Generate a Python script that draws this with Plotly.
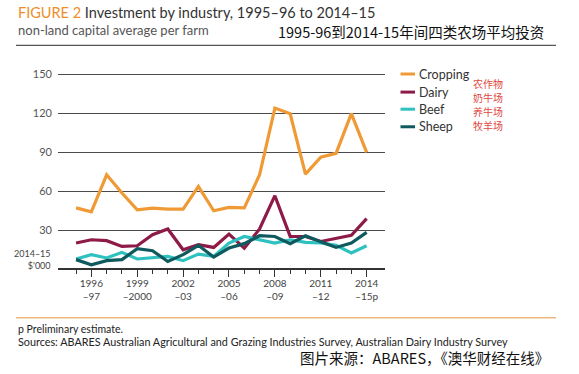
import plotly.graph_objects as go

years = ["1995-96", "1996-97", "1997-98", "1998-99", "1999-2000", "2000-01", "2001-02",
         "2002-03", "2003-04", "2004-05", "2005-06", "2006-07", "2007-08", "2008-09",
         "2009-10", "2010-11", "2011-12", "2012-13", "2013-14", "2014-15p"]

cropping = [47, 44, 72.5, 58.5, 45.6, 46.9, 46, 46, 63.5, 44.8, 47.4, 47, 72.5, 123.8,
            119.4, 73, 86, 89, 119.5, 89.7]
dairy = [20, 22.5, 21.8, 17.4, 17.9, 26.4, 30.8, 14.8, 18.7, 16.6, 26.9, 16.1, 30.8, 56.4,
         25.1, 25, 21.2, 23.3, 25.9, 38.7]
beef = [7.7, 11, 8.5, 12.8, 7.7, 8.5, 9.7, 6.4, 11.5, 9.7, 20, 25, 22.5, 20, 22.5, 20.5,
        20, 18.2, 12.3, 17.9]
sheep = [7.2, 3.3, 6.4, 7.2, 15.6, 14.1, 5.8, 11, 18.2, 9.2, 16.1, 19.5, 25.6, 25, 19.5,
         25.6, 21, 16.6, 20, 28.2]

series_names = ["Cropping", "Dairy", "Beef", "Sheep"]
series_cn = ["农作物", "奶牛场", "养牛场", "牧羊场"]
series_values = [cropping, dairy, beef, sheep]
series_colors = ["#EF9A35", "#8E1B47", "#2EC1C0", "#0F5A5E"]

y_ticks = [0, 30, 60, 90, 120, 150]
y_ticktext = ["", "30", "60", "90", "120", "150"]
x_major_idx = [1, 4, 7, 10, 13, 16, 19]
x_major_text = ["1996<br>–97", "1999<br>–2000", "2002<br>–03", "2005<br>–06",
                "2008<br>–09", "2011<br>–12", "2014<br>–15p"]

W, H = 579, 374
L, R, T, B = 58, 385, 74, 269


def px(x):
    return (x - L) / (R - L)


def py(y):
    return (B - y) / (B - T)


FONT = "Lato, 'Open Sans', sans-serif"
CJK = "'Noto Sans CJK SC', sans-serif"

fig = go.Figure()
xs = list(range(len(years)))
for name, vals, col in zip(series_names, series_values, series_colors):
    fig.add_trace(go.Scatter(x=xs, y=vals, mode="lines", name=name,
                             line=dict(color=col, width=3.2), showlegend=False,
                             hoverinfo="skip", cliponaxis=False))

fig.update_layout(
    width=W, height=H,
    margin=dict(l=L, r=W - R, t=T - 1, b=H - B),
    paper_bgcolor="white", plot_bgcolor="white",
    font=dict(family=FONT, color="#444", size=11),
    xaxis=dict(range=[-1.18, 20.2], showgrid=False, zeroline=False,
               tickvals=x_major_idx, ticktext=x_major_text,
               ticks="outside", ticklen=7, tickwidth=1.2, tickcolor="#333",
               tickfont=dict(size=10, color="#444"), ticklabelstandoff=-2,
               minor=dict(tickvals=xs, ticks="outside", ticklen=4, tickwidth=1.2,
                          tickcolor="#333"),
               showline=False, fixedrange=True),
    yaxis=dict(range=[0, 150.8], tickvals=y_ticks, ticktext=y_ticktext,
               showgrid=True, gridcolor="#4a4a4a", gridwidth=1.3,
               zeroline=True, zerolinecolor="#333", zerolinewidth=1.5,
               ticks="", ticklabelstandoff=5, tickfont=dict(size=11, color="#555"),
               showline=False, fixedrange=True),
)

ann = []
shapes = []
# header
ann.append(dict(x=px(16), y=py(14), xref="paper", yref="paper", xanchor="left",
                yanchor="middle", showarrow=False,
                text="<span style='color:#EE8E2B'>FIGURE 2</span> Investment by industry, 1995–96 to 2014–15",
                font=dict(family=FONT, size=14.5, color="#333")))
ann.append(dict(x=px(16), y=py(31), xref="paper", yref="paper", xanchor="left",
                yanchor="middle", showarrow=False,
                text="non-land capital average per farm",
                font=dict(family=FONT, size=13, color="#555")))
ann.append(dict(x=px(546), y=py(33), xref="paper", yref="paper", xanchor="right",
                yanchor="middle", showarrow=False,
                text="1995-96到2014-15年间四类农场平均投资",
                font=dict(family=CJK, size=14.5, color="#111")))
shapes.append(dict(type="line", xref="paper", yref="paper", x0=px(16), x1=px(556),
                   y0=py(46.5), y1=py(46.5), line=dict(color="#555", width=1.2)))

# y unit label
ann.append(dict(x=px(53), y=py(260), xref="paper", yref="paper", xanchor="right",
                yanchor="middle", showarrow=False, align="right",
                text="2014–15<br>$'000", font=dict(family=FONT, size=9, color="#444")))

# legend
leg_y = [75, 93, 110, 127.5]
cn_y = [84, 98, 112, 126]
for name, cn, col, ly, cy in zip(series_names, series_cn, series_colors, leg_y, cn_y):
    shapes.append(dict(type="line", xref="paper", yref="paper", x0=px(400.5), x1=px(415),
                       y0=py(ly), y1=py(ly), line=dict(color=col, width=3)))
    ann.append(dict(x=px(417), y=py(ly), xref="paper", yref="paper", xanchor="left",
                    yanchor="middle", showarrow=False, text=name,
                    font=dict(family=FONT, size=12.5, color="#333")))
    ann.append(dict(x=px(471), y=py(cy), xref="paper", yref="paper", xanchor="left",
                    yanchor="middle", showarrow=False, text=cn,
                    font=dict(family=CJK, size=10, color="#E0483F")))

# footer
shapes.append(dict(type="line", xref="paper", yref="paper", x0=px(16), x1=px(556),
                   y0=py(317.5), y1=py(317.5), line=dict(color="#EDB77A", width=1.5)))
ann.append(dict(x=px(16), y=py(329), xref="paper", yref="paper", xanchor="left",
                yanchor="middle", showarrow=False, text="p Preliminary estimate.",
                font=dict(family=FONT, size=10.5, color="#222")))
ann.append(dict(x=px(16), y=py(341.5), xref="paper", yref="paper", xanchor="left",
                yanchor="middle", showarrow=False,
                text="Sources: ABARES Australian Agricultural and Grazing Industries Survey, Australian Dairy Industry Survey",
                font=dict(family=FONT, size=10.8, color="#222")))
ann.append(dict(x=px(551), y=py(357), xref="paper", yref="paper", xanchor="right",
                yanchor="middle", showarrow=False,
                text="图片来源：ABARES，《澳华财经在线》",
                font=dict(family=CJK, size=14.5, color="#111")))

fig.update_layout(annotations=ann, shapes=shapes)
fig.write_html("out.html", config={"displayModeBar": False},
               post_script="document.body.style.margin='0';")
